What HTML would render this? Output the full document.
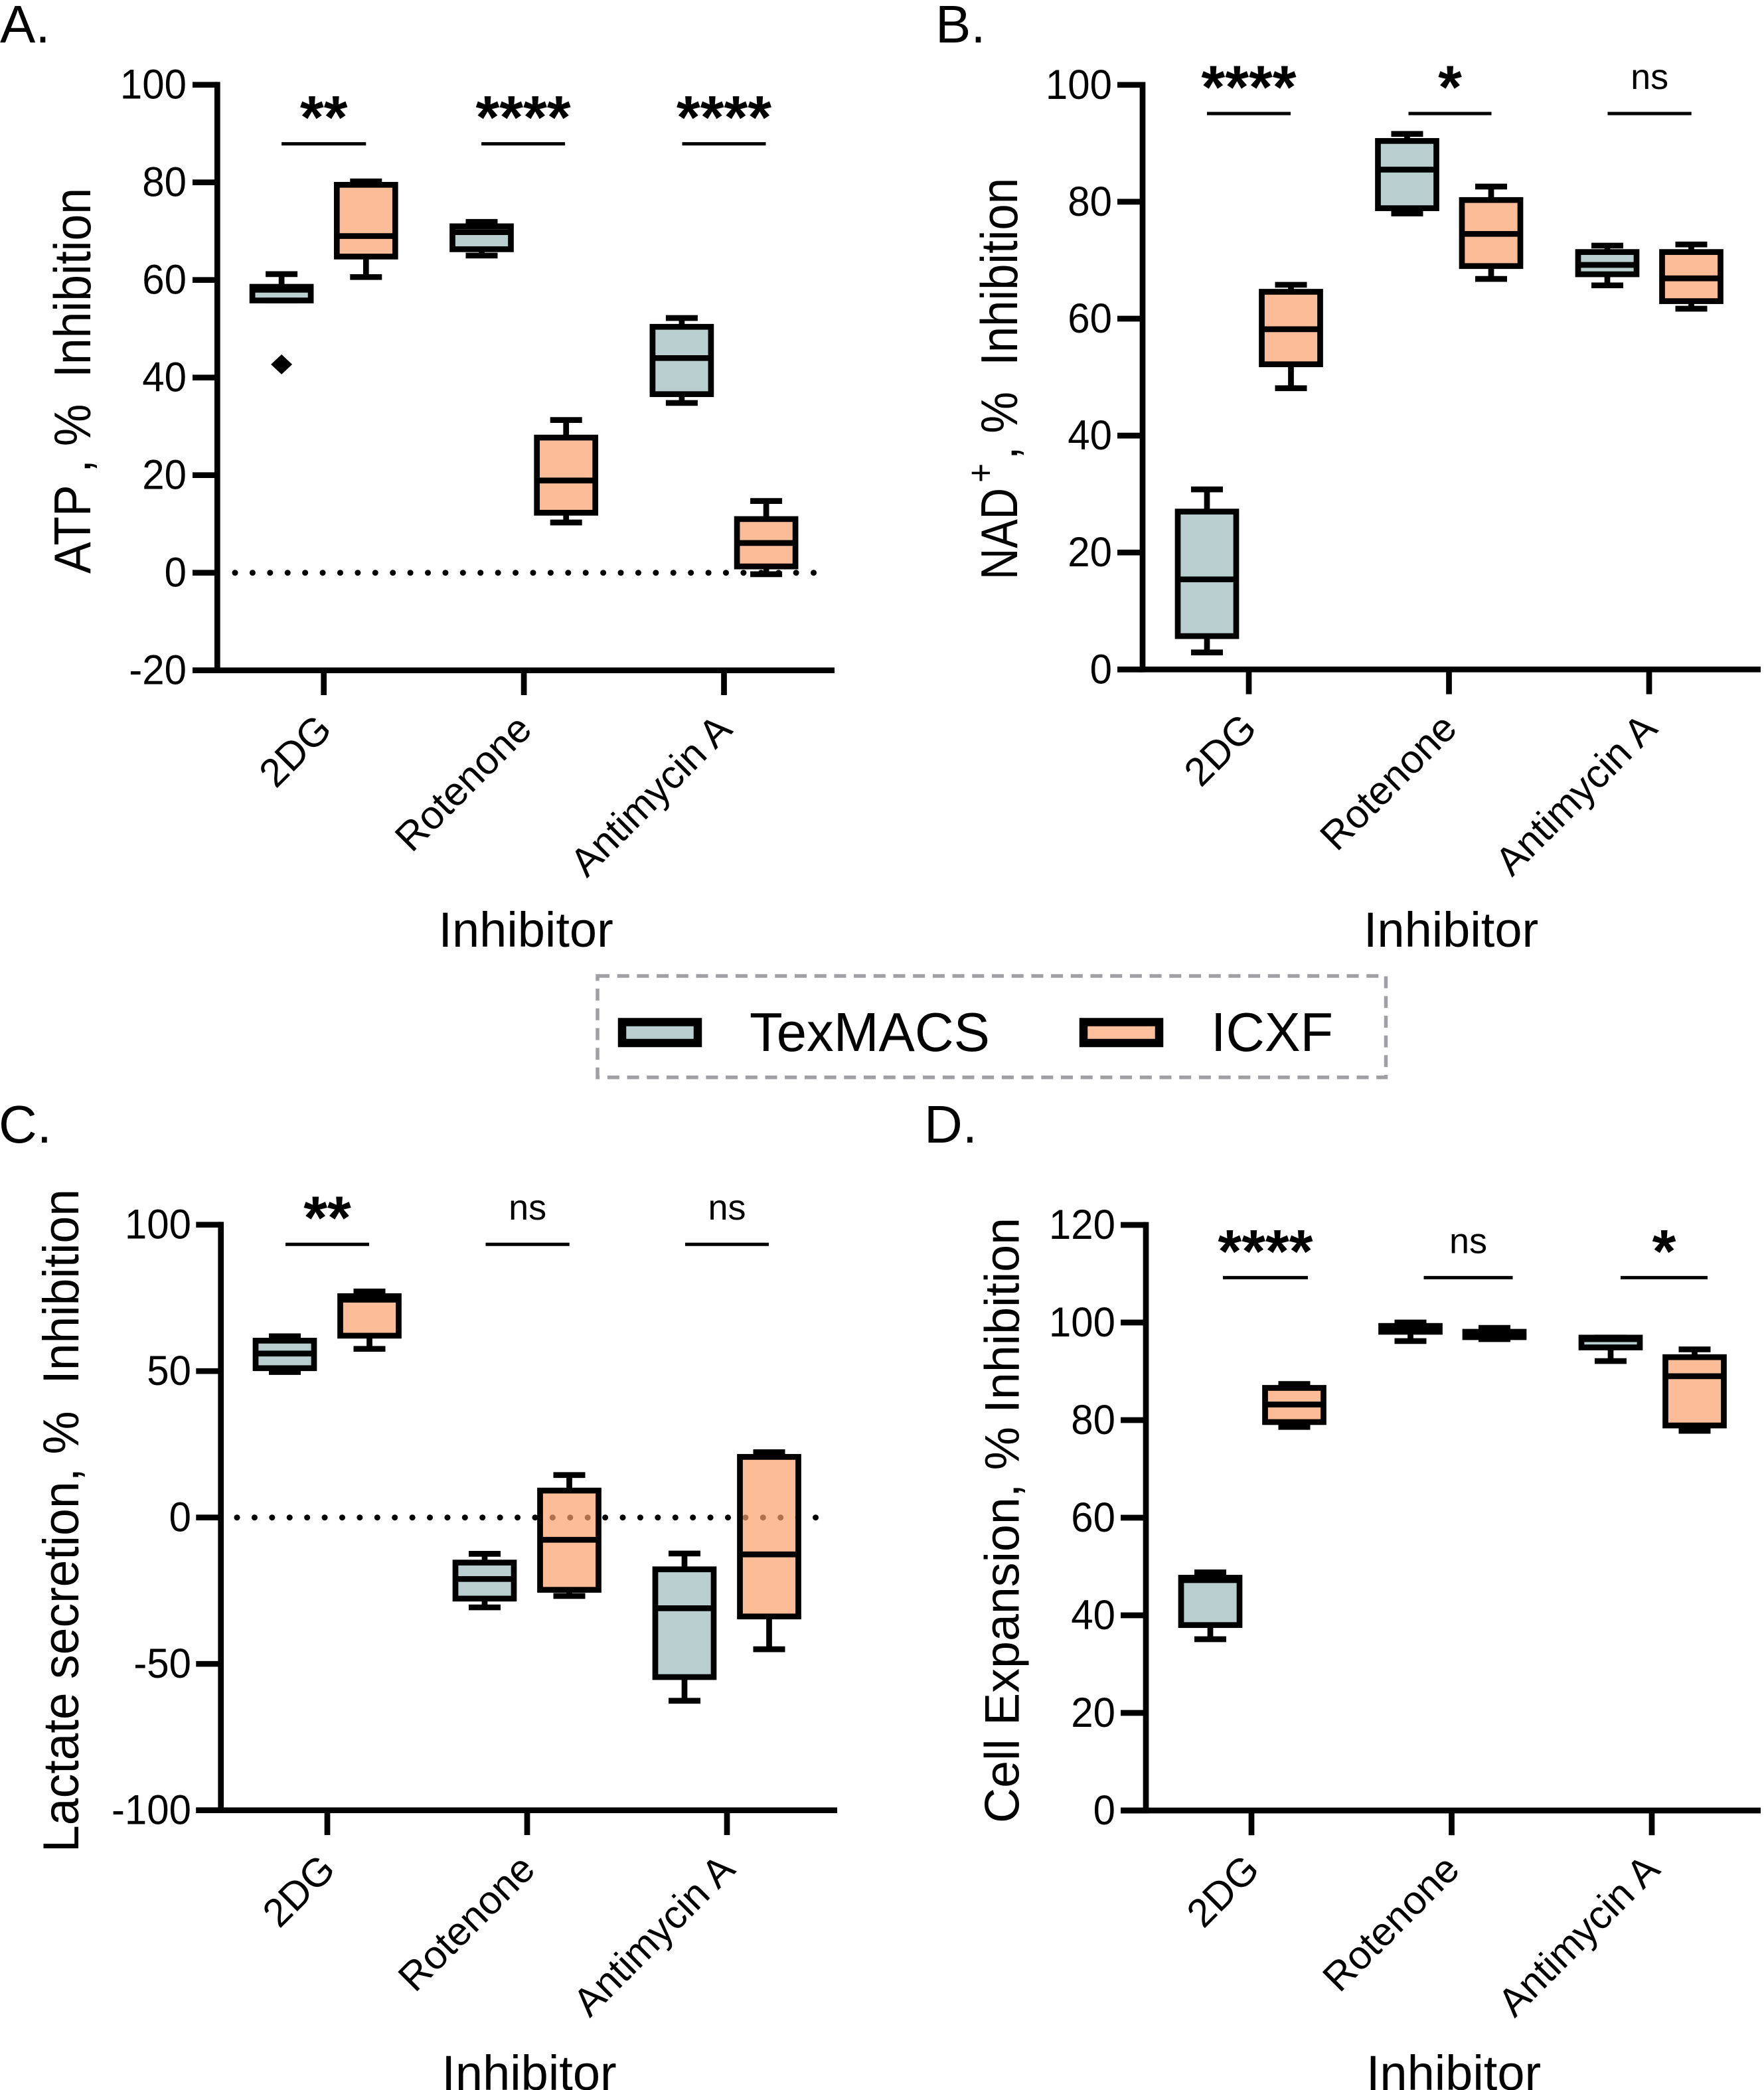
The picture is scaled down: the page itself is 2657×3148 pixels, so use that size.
<!DOCTYPE html>
<html lang="en">
<head>
<meta charset="utf-8">
<title>Inhibitor box plots</title>
<style>
html,body{margin:0;padding:0;background:#fff;}
body{width:2657px;height:3148px;overflow:hidden;}
svg{display:block;}
text{font-family:"Liberation Sans",Arial,sans-serif;fill:#000;white-space:pre;}
</style>
</head>
<body>
<svg id="figure" xmlns="http://www.w3.org/2000/svg" width="2657" height="3148" viewBox="0 0 2657 3148">
  <rect width="2657" height="3148" fill="#fff"/>
  <g>
    <rect x="900" y="1470" width="1187.5" height="152.7" fill="none" stroke="#a0a0a4" stroke-width="5.5" stroke-dasharray="18 11.7"/>
    <rect x="937" y="1539.5" width="114" height="31.5" fill="#b9cfcf" stroke="#000" stroke-width="12.5"/>
    <text font-size="79" textLength="362" lengthAdjust="spacingAndGlyphs" transform="translate(1129,1583) scale(1,1.04)">TexMACS</text>
    <rect x="1632" y="1539.5" width="114" height="31.5" fill="#fdbf9c" stroke="#000" stroke-width="12.5"/>
    <text font-size="79" textLength="184" lengthAdjust="spacingAndGlyphs" transform="translate(1824,1583) scale(1,1.04)">ICXF</text>
  </g>
  <text x="0" y="64" font-size="80">A.</text>
  <text x="1409" y="64" font-size="80">B.</text>
  <text x="-2" y="1721" font-size="80">C.</text>
  <text x="1392" y="1721" font-size="80">D.</text>
  <g transform="translate(1532,873) rotate(-90) scale(1,1.12)">
    <text x="0" y="0" font-size="70" textLength="138" lengthAdjust="spacingAndGlyphs">NAD</text>
    <text x="146" y="-32" font-size="50">+</text>
    <text x="181" y="0" font-size="70" textLength="424" lengthAdjust="spacingAndGlyphs">, %  Inhibition</text>
  </g>
</svg>
<script>
const categories = ['2DG', 'Rotenone', 'Antimycin A'];
const xAxisTitle = 'Inhibitor';

// Each row: [min, q1, median, q3, max]
const panelATicks = [-20, 0, 20, 40, 60, 80, 100];
const panelATexMACS = [[55.8, 55.8, 58, 58.6, 61.2], [65, 66.3, 69.8, 71, 71.9], [34.8, 36.6, 44, 50.4, 52.2]];
const panelAICXF = [[60.6, 64.8, 69, 79.5, 80.2], [10.3, 12.3, 18.9, 27.7, 31.3], [-0.3, 1.3, 6.1, 11, 14.7]];
const panelAOutliers = [42.7];
const panelASignificance = ['**', '****', '****'];

const panelBTicks = [0, 20, 40, 60, 80, 100];
const panelBTexMACS = [[2.9, 5.7, 15.4, 27, 30.8], [78, 78.9, 85.5, 90.4, 91.6], [65.7, 67.6, 69.2, 71.4, 72.5]];
const panelBICXF = [[48.1, 52.2, 58.2, 64.6, 65.8], [66.8, 69, 74.5, 80.3, 82.6], [61.7, 63, 66.9, 71.4, 72.7]];
const panelBSignificance = ['****', '*', 'ns'];

const panelCTicks = [-100, -50, 0, 50, 100];
const panelCTexMACS = [[49.7, 51, 56, 60.4, 61.9], [-30.7, -27.7, -21, -15.4, -12.4], [-62.6, -54.5, -31, -17.7, -12.3]];
const panelCICXF = [[57.6, 62.1, 74.4, 75.6, 77.2], [-26.8, -24.7, -7.6, 9.2, 14.5], [-45, -33.8, -12.6, 20.7, 22.3]];
const panelCSignificance = ['**', 'ns', 'ns'];

const panelDTicks = [0, 20, 40, 60, 80, 100, 120];
const panelDTexMACS = [[35.1, 38, 47.2, 47.7, 48.8], [96.2, 98.1, 98.7, 99.3, 100], [92.1, 94.9, 96.6, 96.9, 96.9]];
const panelDICXF = [[78.6, 79.6, 83.2, 86.6, 87.4], [96.6, 97, 97.6, 98.1, 98.9], [77.8, 78.9, 89, 92.9, 94.5]];
const panelDSignificance = ['****', 'ns', '*'];

const NS = 'http://www.w3.org/2000/svg';
const figure = document.getElementById('figure');
const TEX_FILL = '#9bbaba';
const ICX_FILL = '#fc9f6c';
const STROKE = 8.7;

function mk(parent, tag, attrs) {
  const el = document.createElementNS(NS, tag);
  for (const k in attrs) el.setAttribute(k, attrs[k]);
  parent.appendChild(el);
  return el;
}
function line(parent, x1, y1, x2, y2, w) {
  return mk(parent, 'line', { x1: x1, y1: y1, x2: x2, y2: y2, stroke: '#000', 'stroke-width': w });
}

function drawPanel(id, layout, ticks, texmacs, icxf, significance, sigLevel, outliers) {
  const g = mk(figure, 'g', {});
  
  

  const yScale = v => layout.y0 + (v - layout.v0) * (layout.y1 - layout.y0) / (layout.v1 - layout.v0);
  const xScale = i => layout.cat0 + i * layout.catStep;
  const axisBottom = yScale(ticks[0]);
  const axisTop = yScale(ticks[ticks.length - 1]);

  if (layout.zero) {
    const dots = mk(g, 'line', { x1: layout.zero[0], x2: layout.zero[1], y1: yScale(0), y2: yScale(0), stroke: '#000', 'stroke-width': 9, 'stroke-linecap': 'round', 'stroke-dasharray': '0.01 26.4' });
    
    
  }

  const yAxis = line(g, layout.axisX, axisTop - STROKE / 2, layout.axisX, axisBottom + STROKE / 2, STROKE);
  
  

  const xAxis = line(g, layout.tickLeft, axisBottom, layout.axisRight, axisBottom, STROKE);
  
  

  ticks.forEach(t => {
    const mark = line(g, layout.tickLeft, yScale(t), layout.axisX, yScale(t), STROKE);
    
    
    const label = mk(g, 'text', { 'font-size': 60, 'text-anchor': 'end', transform: 'translate(' + layout.labelRight + ',' + (yScale(t) + 21) + ') scale(1,1.05)' });
    label.textContent = String(t);
    
    
  });

  categories.forEach((c, i) => {
    const mark = line(g, xScale(i), axisBottom, xScale(i), axisBottom + 37.3, STROKE);
    
    
    const label = mk(g, 'text', { 'font-size': 60, 'text-anchor': 'end', transform: 'translate(' + (xScale(i) + 15) + ',' + (axisBottom + 92) + ') rotate(-45)' });
    label.textContent = c;
    
    
  });

  const xTitle = mk(g, 'text', { 'font-size': 74, 'text-anchor': 'middle', x: xScale(1) + 3, y: layout.xTitleY });
  xTitle.textContent = xAxisTitle;
  
  

  if (layout.yTitle) {
    const yTitle = mk(g, 'text', { 'font-size': 70, textLength: layout.yTitle[3], lengthAdjust: 'spacingAndGlyphs', transform: 'translate(' + layout.yTitle[1] + ',' + layout.yTitle[2] + ') rotate(-90) scale(1,' + layout.yTitle[4] + ')' });
    yTitle.textContent = layout.yTitle[0];
    
    
  }

  function drawBox(stats, cx, fill, name) {
    const box = mk(g, 'g', {});
    
    
    const [min, q1, med, q3, max] = stats;
    line(box, cx, yScale(q3), cx, yScale(max), STROKE);
    line(box, cx, yScale(q1), cx, yScale(min), STROKE);
    line(box, cx - 24, yScale(max), cx + 24, yScale(max), STROKE);
    line(box, cx - 24, yScale(min), cx + 24, yScale(min), STROKE);
    mk(box, 'rect', { x: cx - 44, y: yScale(q3), width: 88, height: yScale(q1) - yScale(q3), fill: fill, 'fill-opacity': 0.7, stroke: '#000', 'stroke-width': STROKE });
    line(box, cx - 44, yScale(med), cx + 44, yScale(med), STROKE);
  }

  categories.forEach((c, i) => {
    drawBox(texmacs[i], xScale(i) + layout.boxOffset[0], TEX_FILL, 'box-texmacs-' + i);
    drawBox(icxf[i], xScale(i) + layout.boxOffset[1], ICX_FILL, 'box-icxf-' + i);
  });

  (outliers || []).forEach((v, i) => {
    const cx = xScale(i) + layout.boxOffset[0], cy = yScale(v);
    const d = mk(g, 'polygon', { points: (cx - 16) + ',' + cy + ' ' + cx + ',' + (cy - 15) + ' ' + (cx + 16) + ',' + cy + ' ' + cx + ',' + (cy + 15), fill: '#000' });
    
    
  });

  significance.forEach((s, i) => {
    const left = xScale(i) + layout.sigSpan[i][0];
    const right = xScale(i) + layout.sigSpan[i][1];
    const sy = yScale(sigLevel);
    const bar = line(g, left, sy, right, sy, 5);
    
    
    const mid = (left + right) / 2;
    const isNs = s === 'ns';
    const label = mk(g, 'text', { 'font-size': isNs ? 54 : 92, 'font-weight': isNs ? 'normal' : 'bold', 'text-anchor': 'middle', x: mid, y: isNs ? sy - 37 : sy - 8 });
    label.textContent = s;
    
    
  });
}

drawPanel('a', {
  axisX: 327.3, tickLeft: 290, axisRight: 1257, labelRight: 281,
  y0: 862.7, v0: 0, y1: 127.7, v1: 100,
  cat0: 487.7, catStep: 301.4, xTitleY: 1426, zero: [354, 1229],
  boxOffset: [-63.6, 63.6],
  yTitle: ['ATP , %  Inhibition', 136, 864, 581, 1.12],
  sigSpan: [[-63.6, 63.6], [-64, 62], [-63, 63]]
}, panelATicks, panelATexMACS, panelAICXF, panelASignificance, 87.9, panelAOutliers);

drawPanel('b', {
  axisX: 1721, tickLeft: 1683, axisRight: 2652, labelRight: 1675,
  y0: 1008.3, v0: 0, y1: 127.8, v1: 100,
  cat0: 1881, catStep: 301.5, xTitleY: 1426,
  boxOffset: [-63, 63.5],
  sigSpan: [[-63, 63], [-61, 64], [-62.5, 63.7]]
}, panelBTicks, panelBTexMACS, panelBICXF, panelBSignificance, 95.1);

drawPanel('c', {
  axisX: 332.7, tickLeft: 295.3, axisRight: 1261, labelRight: 288,
  y0: 2285.7, v0: 0, y1: 1844.7, v1: 100,
  cat0: 493, catStep: 301, xTitleY: 3148, zero: [357, 1233],
  boxOffset: [-64, 63.5],
  yTitle: ['Lactate secretion, %  Inhibition', 118, 2790, 999, 1.09],
  sigSpan: [[-63, 63], [-62.5, 63.7], [-63, 63]]
}, panelCTicks, panelCTexMACS, panelCICXF, panelCSignificance, 93.3);

drawPanel('d', {
  axisX: 1726, tickLeft: 1688, axisRight: 2652, labelRight: 1680,
  y0: 2727, v0: 0, y1: 1845, v1: 120,
  cat0: 1885, catStep: 301.5, xTitleY: 3148,
  boxOffset: [-62, 64.5],
  yTitle: ['Cell Expansion, % Inhibition', 1534.7, 2746, 912, 1.05],
  sigSpan: [[-43, 85], [-42, 92], [-47, 84]]
}, panelDTicks, panelDTexMACS, panelDICXF, panelDSignificance, 109.2);
</script>
</body>
</html>
